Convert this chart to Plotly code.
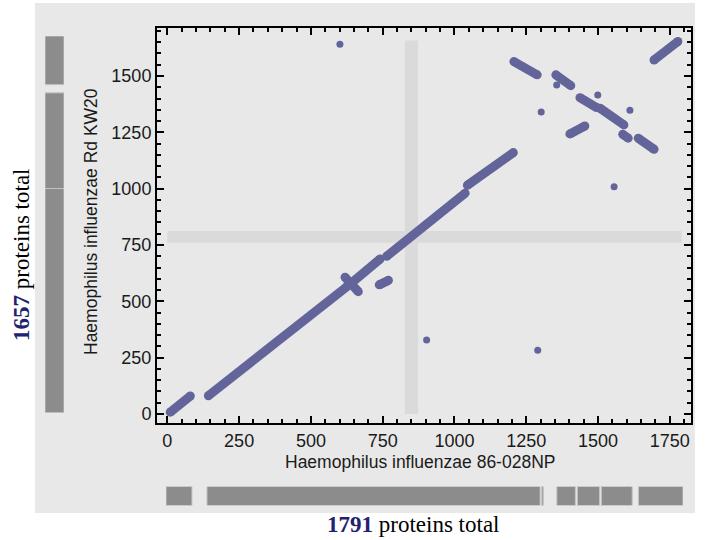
import plotly.graph_objects as go

# ---------------- data ----------------
# line-like runs of matched proteins (start x, start y, end x, end y)
seg_x0 = [10, 143, 619, 640, 738, 764, 1045, 1207, 1353, 1437, 1507, 1402, 1586, 1640, 1695]
seg_y0 = [8, 81, 607, 580, 573, 700, 1015, 1564, 1505, 1404, 1357, 1243, 1241, 1224, 1571]
seg_x1 = [80, 625, 665, 741, 770, 1037, 1205, 1288, 1405, 1495, 1590, 1454, 1605, 1695, 1778]
seg_y1 = [80, 565, 543, 688, 593, 980, 1160, 1505, 1457, 1360, 1283, 1278, 1224, 1175, 1653]

# isolated matches
pt_x = [601, 1302, 1356, 1499, 1611, 1556, 903, 1290]
pt_y = [1641, 1340, 1460, 1416, 1348, 1008, 328, 283]

# highlight bands (data units)
vband_x = [827, 873]
vband_y = [0, 1657]
hband_x = [0, 1791]
hband_y = [760, 812]

# contig bars
left_start = [0, 986, 1443]
left_end = [986, 1407, 1657]
bottom_start = [0, 142, 1302, 1354, 1425, 1508, 1637]
bottom_end = [90, 1296, 1307, 1418, 1502, 1615, 1791]

x_ticks = [0, 250, 500, 750, 1000, 1250, 1500, 1750]
y_ticks = [0, 250, 500, 750, 1000, 1250, 1500]

x_title = "Haemophilus influenzae 86-028NP"
y_title = "Haemophilus influenzae Rd KW20"
x_total = 1791
y_total = 1657

# ---------------- style ----------------
W, H = 707, 540
PANEL = "#e8e8e8"
BAND = "#dadada"
DOT = "#62649a"
BARC = "#8c8c8c"
SANS = "Liberation Sans, Arial, sans-serif"
SERIF = "Liberation Serif, Times New Roman, serif"


def px_x(p):
    return p / W


def px_y(p):
    return (H - p) / H


fig = go.Figure()

# segments drawn as thick lines with round ends
lx, ly = [], []
for a, b, c, d in zip(seg_x0, seg_y0, seg_x1, seg_y1):
    lx += [a, c, None]
    ly += [b, d, None]
fig.add_trace(go.Scatter(x=lx, y=ly, mode="lines+markers",
                         line=dict(color=DOT, width=9),
                         marker=dict(color=DOT, size=9, line=dict(width=0)),
                         showlegend=False, hoverinfo="skip"))
fig.add_trace(go.Scatter(x=pt_x, y=pt_y, mode="markers",
                         marker=dict(color=DOT, size=7, line=dict(width=0)),
                         showlegend=False))

# left bars
fig.add_trace(go.Bar(x=[0] * len(left_start),
                     y=[e - s for s, e in zip(left_start, left_end)],
                     base=left_start, width=1, xaxis="x2", yaxis="y2",
                     marker=dict(color=BARC, line=dict(color="#c4c4c4", width=1)),
                     showlegend=False))
# bottom bars
fig.add_trace(go.Bar(y=[0] * len(bottom_start),
                     x=[e - s for s, e in zip(bottom_start, bottom_end)],
                     base=bottom_start, width=1, orientation="h",
                     xaxis="x3", yaxis="y3",
                     marker=dict(color=BARC, line=dict(color="#c4c4c4", width=1)),
                     showlegend=False))

shapes = [
    dict(type="rect", xref="paper", yref="paper", x0=px_x(35), x1=px_x(695),
         y0=px_y(513), y1=px_y(3), fillcolor=PANEL, line=dict(width=0), layer="below"),
    dict(type="rect", xref="x", yref="y", x0=vband_x[0], x1=vband_x[1],
         y0=vband_y[0], y1=vband_y[1], fillcolor=BAND, line=dict(width=0), layer="below"),
    dict(type="rect", xref="x", yref="y", x0=hband_x[0], x1=hband_x[1],
         y0=hband_y[0], y1=hband_y[1], fillcolor=BAND, line=dict(width=0), layer="below"),
]

axis_common = dict(showgrid=False, zeroline=False, showline=True, linecolor="black",
                   linewidth=2, mirror="ticks", ticks="inside", ticklen=7,
                   tickwidth=1.5, tickcolor="black",
                   tickfont=dict(family=SANS, size=18, color="#1a1a1a"))

fig.update_layout(
    width=W, height=H,
    margin=dict(l=0, r=0, t=0, b=0),
    paper_bgcolor="white", plot_bgcolor=PANEL,
    shapes=shapes,
    xaxis=dict(domain=[px_x(157), px_x(690.5)], range=[-36, 1822],
               tickvals=x_ticks, anchor="y",
               minor=dict(dtick=50, tick0=0, ticks="inside", ticklen=4,
                          tickwidth=1.5, tickcolor="black"),
               **axis_common),
    yaxis=dict(domain=[px_y(423), px_y(28)], range=[-40, 1713],
               tickvals=y_ticks, anchor="x",
               minor=dict(dtick=50, tick0=0, ticks="inside", ticklen=4,
                          tickwidth=1.5, tickcolor="black"),
               **axis_common),
    xaxis2=dict(domain=[px_x(45), px_x(64)], range=[-0.5, 0.5], visible=False,
                anchor="y2"),
    yaxis2=dict(domain=[px_y(412.7), px_y(36)], range=[0, y_total], visible=False,
                anchor="x2"),
    xaxis3=dict(domain=[px_x(166), px_x(683)], range=[0, x_total], visible=False,
                anchor="y3"),
    yaxis3=dict(domain=[px_y(505.5), px_y(486.5)], range=[-0.5, 0.5], visible=False,
                anchor="x3"),
    annotations=[
        dict(text=x_title, xref="paper", yref="paper", x=px_x(420), y=px_y(462),
             showarrow=False, font=dict(family=SANS, size=17.5, color="#1a1a1a"),
             xanchor="center", yanchor="middle"),
        dict(text=y_title, xref="paper", yref="paper", x=px_x(91), y=px_y(222),
             showarrow=False, textangle=-90,
             font=dict(family=SANS, size=17.5, color="#1a1a1a"),
             xanchor="center", yanchor="middle"),
        dict(text=f"<b style='color:#22226e'>{x_total}</b> proteins total",
             xref="paper", yref="paper", x=px_x(413), y=px_y(524),
             showarrow=False, font=dict(family=SERIF, size=23, color="black"),
             xanchor="center", yanchor="middle"),
        dict(text=f"<b style='color:#22226e'>{y_total}</b> proteins total",
             xref="paper", yref="paper", x=px_x(21), y=px_y(255),
             showarrow=False, textangle=-90,
             font=dict(family=SERIF, size=23, color="black"),
             xanchor="center", yanchor="middle"),
    ],
)

fig.write_html("out.html")
